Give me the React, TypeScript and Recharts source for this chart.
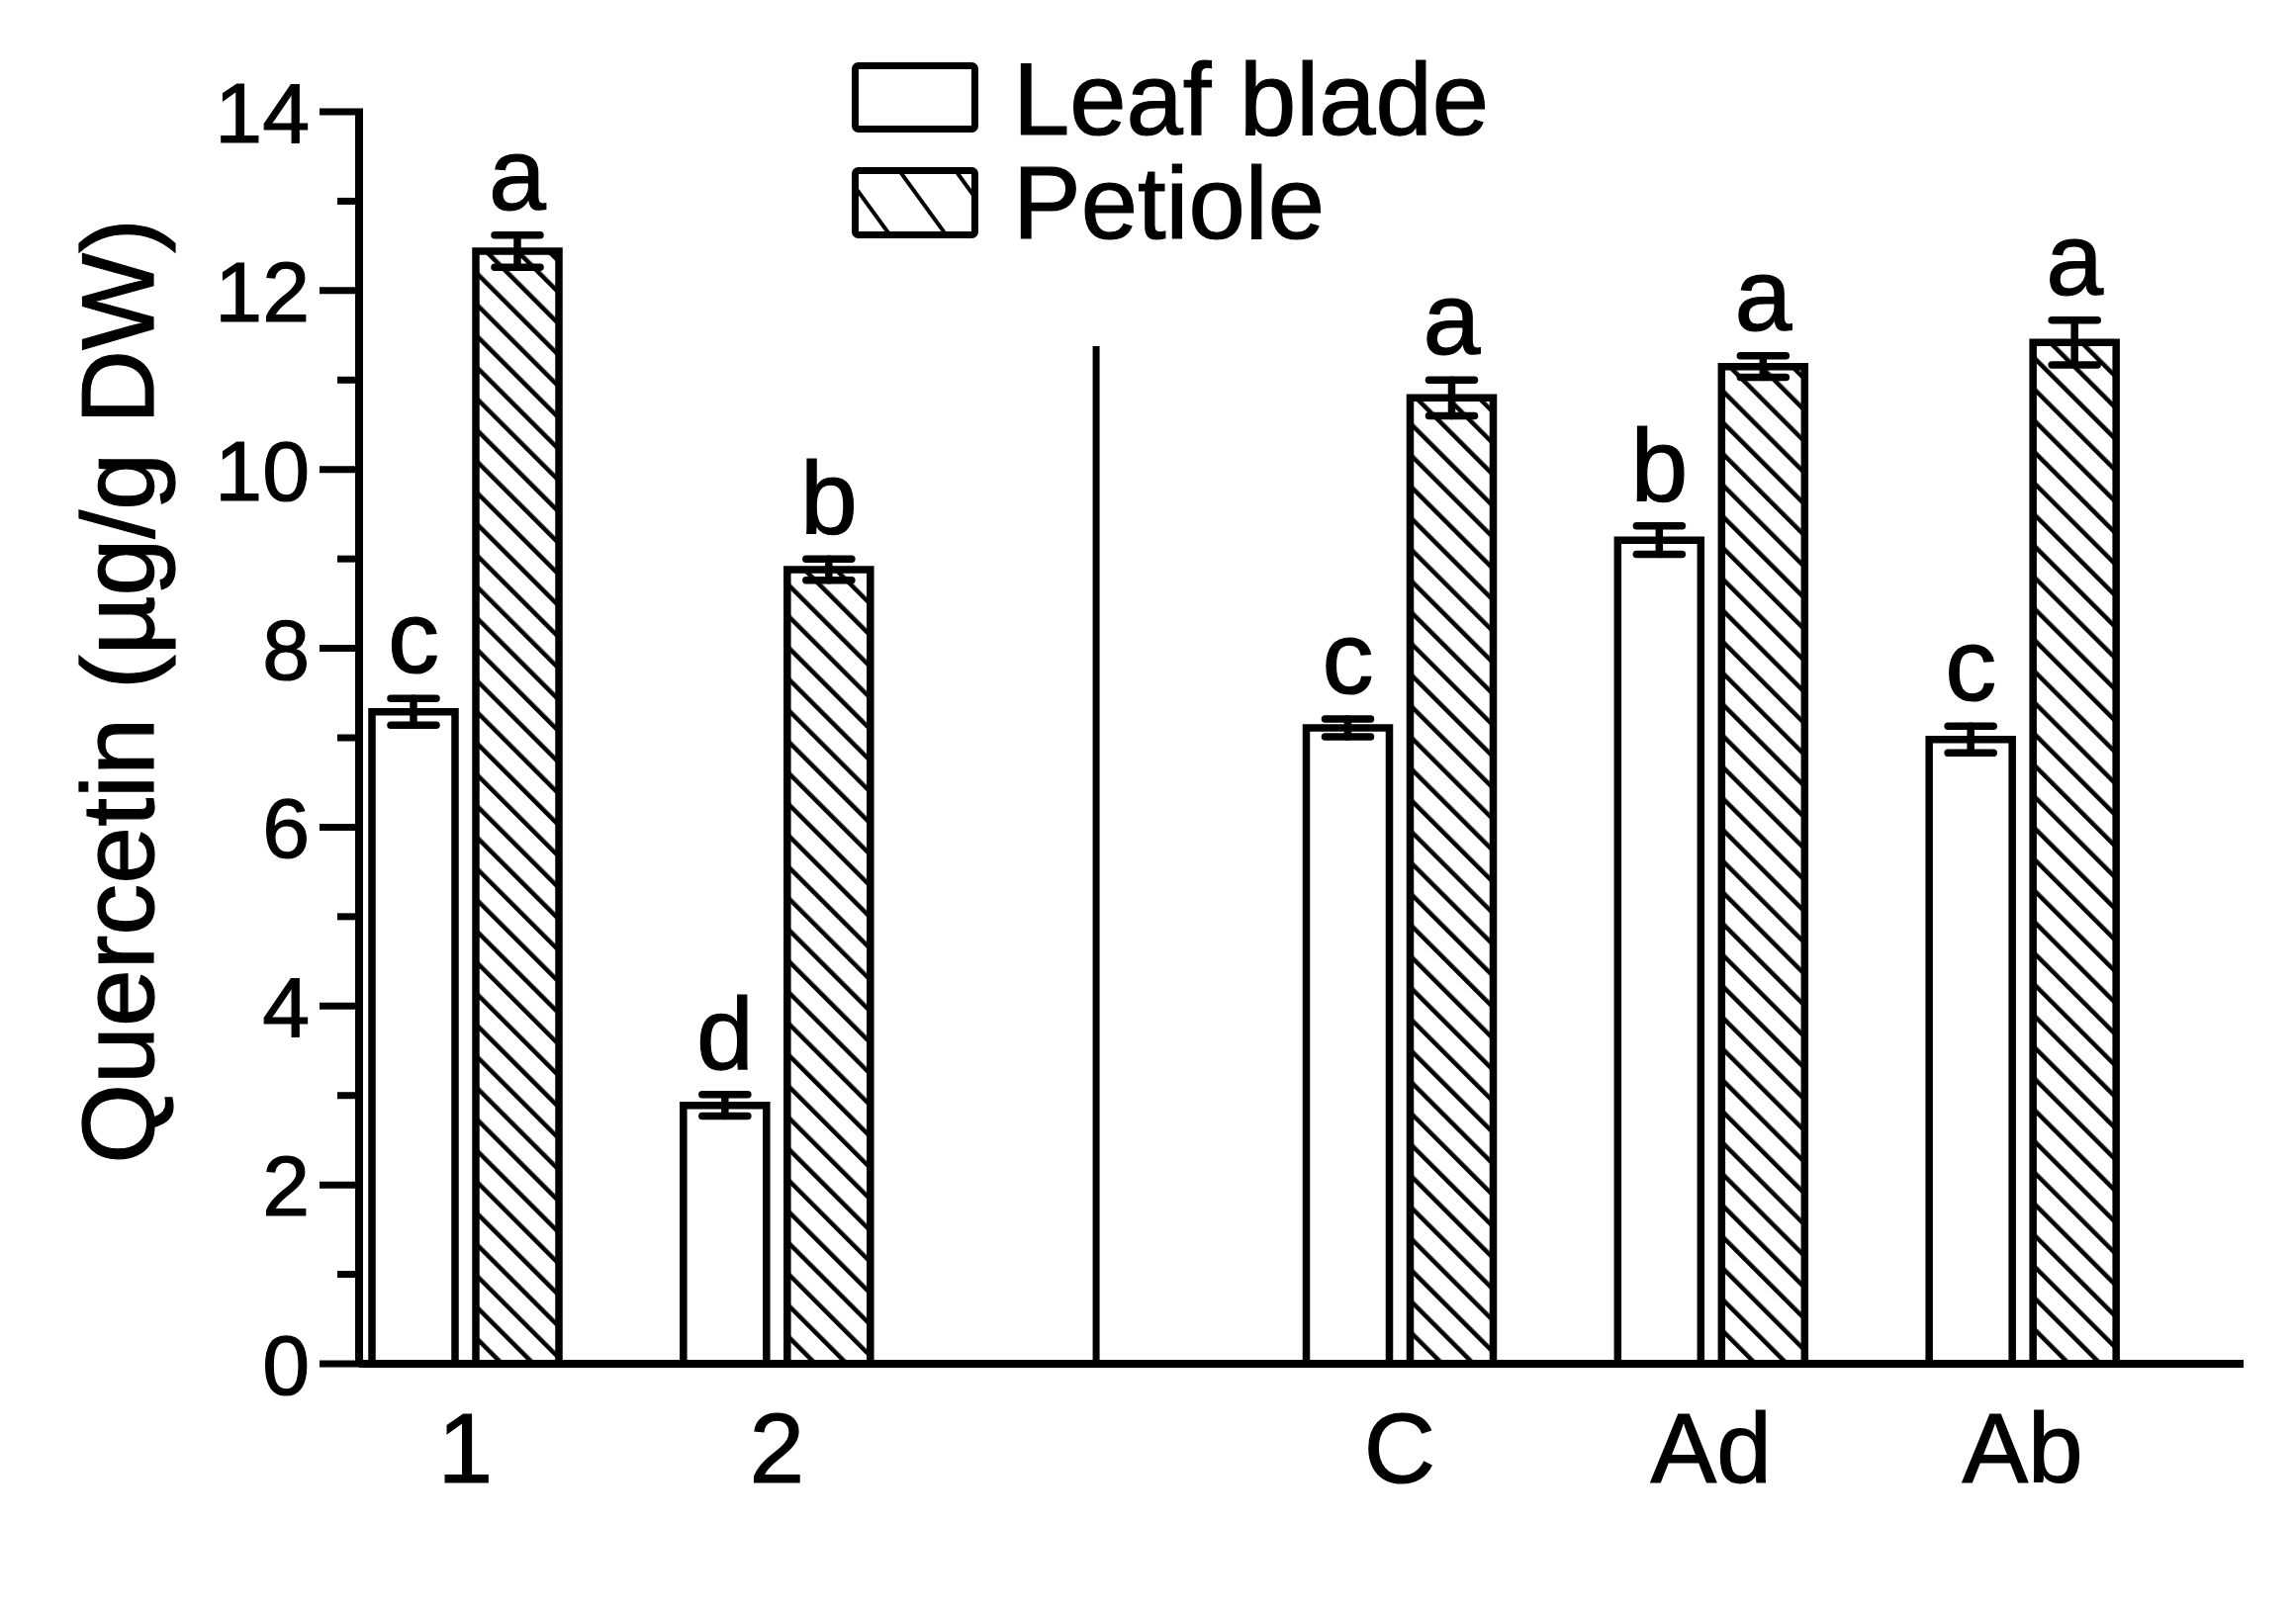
import React from 'react'
import { BarChart, Bar, XAxis, YAxis, ErrorBar, LabelList, Legend, ReferenceLine } from 'recharts'

const categories = ['1', '2', ' ', 'C', 'Ad', 'Ab']
const leafBlade = [7.29, 2.89, null, 7.11, 9.21, 6.98]
const leafBladeErr = [0.15, 0.12, null, 0.1, 0.16, 0.15]
const petiole = [12.44, 8.88, null, 10.8, 11.15, 11.42]
const petioleErr = [0.18, 0.12, null, 0.2, 0.12, 0.25]
const leafLetters = ['c', 'd', '', 'c', 'b', 'c']
const petioleLetters = ['a', 'b', '', 'a', 'a', 'a']
const yTicks = [0, 1, 2, 3, 4, 5, 6, 7, 8, 9, 10, 11, 12, 13, 14]

const data = categories.map((name, i) => ({
  name,
  leaf: leafBlade[i],
  leafErr: leafBladeErr[i],
  leafLetter: leafLetters[i],
  petiole: petiole[i],
  petioleErr: petioleErr[i],
  petioleLetter: petioleLetters[i],
}))

const FONT = '"Liberation Sans", Arial, Helvetica, sans-serif'
const LINE = 7
const TEXT_STROKE = 1.2

// y axis: long ticks on even values with labels, short ticks on odd values
const YTick = (props: any) => {
  const { x, y, payload } = props
  const axisX = x + 50
  const major = payload.value % 2 === 0
  return (
    <g>
      <line x1={axisX - (major ? 40 : 22)} x2={axisX + 4} y1={y} y2={y} stroke="#000" strokeWidth={LINE} />
      {major && (
        <text x={x} y={y} dy="0.36em" textAnchor="end" fontSize={86} fontFamily={FONT} fill="#000"
          stroke="#000" strokeWidth={TEXT_STROKE}>
          {payload.value}
        </text>
      )}
    </g>
  )
}

// letter label value is "letter|mean|sem", so it sits above the error bar
const letterKey = (valKey: string, errKey: string, letterKey: string) => (d: any) =>
  d[letterKey] ? `${d[letterKey]}|${d[valKey]}|${d[errKey]}` : null

const letterContent = (props: any) => {
  const { x, y, width, height, value } = props
  if (!value) return null
  const [letter, mean, err] = String(value).split('|')
  const perUnit = height / Number(mean)
  const top = y - Number(err) * perUnit
  return (
    <text x={x + width / 2} y={top - 26} textAnchor="middle" fontSize={104} fontFamily={FONT} fill="#000"
      stroke="#000" strokeWidth={TEXT_STROKE}>
      {letter}
    </text>
  )
}

const renderLegend = () => (
  <svg width={700} height={230} style={{ overflow: 'visible' }}>
    <defs>
      <pattern id="hatchLegend" patternUnits="userSpaceOnUse" width={46} height={46} patternTransform="rotate(-36)">
        <rect width={46} height={46} fill="#fff" />
        <line x1={23} y1={0} x2={23} y2={46} stroke="#000" strokeWidth={4} />
      </pattern>
    </defs>
    <rect x={14.5} y={14.5} width={121} height={64} rx={3} fill="#fff" stroke="#000" strokeWidth={LINE} />
    <text x={174} y={84} fontSize={103} fontFamily={FONT} fill="#000" stroke="#000" strokeWidth={TEXT_STROKE}>
      Leaf blade
    </text>
    <rect x={14.5} y={120.5} width={121} height={65} rx={3} fill="url(#hatchLegend)" stroke="#000" strokeWidth={LINE} />
    <text x={174} y={189} fontSize={103} fontFamily={FONT} fill="#000" stroke="#000" strokeWidth={TEXT_STROKE}>
      Petiole
    </text>
  </svg>
)

export default function App() {
  return (
    <div style={{ position: 'absolute', left: 0, top: 0, background: '#fff' }}>
      <BarChart
        width={2321}
        height={1630}
        data={data}
        margin={{ top: 113, right: 53, bottom: 101, left: 243 }}
        barSize={84}
        barGap={21}
      >
        <defs>
          <pattern id="hatch" patternUnits="userSpaceOnUse" width={22.4} height={22.4} patternTransform="rotate(-45)">
            <rect width={22.4} height={22.4} fill="#fff" />
            <line x1={11} y1={0} x2={11} y2={22.4} stroke="#000" strokeWidth={4.5} />
          </pattern>
        </defs>
        <XAxis
          dataKey="name"
          height={150}
          interval={0}
          padding={{ left: -50, right: 66 }}
          tickLine={false}
          tickSize={0}
          tickMargin={49}
          axisLine={{ stroke: '#000', strokeWidth: LINE + 1 }}
          tick={{ fontSize: 100, fontFamily: FONT, fill: '#000', stroke: '#000', strokeWidth: TEXT_STROKE }}
        />
        <YAxis
          width={120}
          domain={[0, 14]}
          ticks={yTicks}
          interval={0}
          tickSize={40}
          tickMargin={10}
          tickLine={false}
          axisLine={{ stroke: '#000', strokeWidth: LINE + 1 }}
          tick={<YTick />}
          label={{
            content: () => (
              <text
                transform="translate(155,699) rotate(-90)"
                textAnchor="middle"
                fontSize={104}
                fontFamily={FONT}
                fill="#000"
                stroke="#000"
                strokeWidth={TEXT_STROKE}
              >
                Quercetin (µg/g DW)
              </text>
            ),
          }}
        />
        <ReferenceLine
          segment={[{ x: ' ', y: 0 }, { x: ' ', y: 11.38 }]}
          stroke="#000"
          strokeWidth={LINE}
          shape={(p: any) => <line x1={p.x1 + 8} y1={p.y1} x2={p.x2 + 8} y2={p.y2} stroke="#000" strokeWidth={LINE} />}
        />
        <Legend
          layout="horizontal"
          verticalAlign="middle"
          align="center"
          content={renderLegend}
          wrapperStyle={{ left: 850, top: 52, width: 700, height: 230 }}
        />
        <Bar dataKey="leaf" name="Leaf blade" fill="#fff" stroke="#000" strokeWidth={LINE + 0.5} isAnimationActive={false}>
          <ErrorBar dataKey="leafErr" direction="y" width={23} stroke="#000" strokeWidth={LINE + 0.5} strokeLinecap="round" />
          <LabelList dataKey={letterKey('leaf', 'leafErr', 'leafLetter')} content={letterContent} />
        </Bar>
        <Bar dataKey="petiole" name="Petiole" fill="url(#hatch)" stroke="#000" strokeWidth={LINE + 0.5} isAnimationActive={false}>
          <ErrorBar dataKey="petioleErr" direction="y" width={23} stroke="#000" strokeWidth={LINE + 0.5} strokeLinecap="round" />
          <LabelList dataKey={letterKey('petiole', 'petioleErr', 'petioleLetter')} content={letterContent} />
        </Bar>
      </BarChart>
    </div>
  )
}
